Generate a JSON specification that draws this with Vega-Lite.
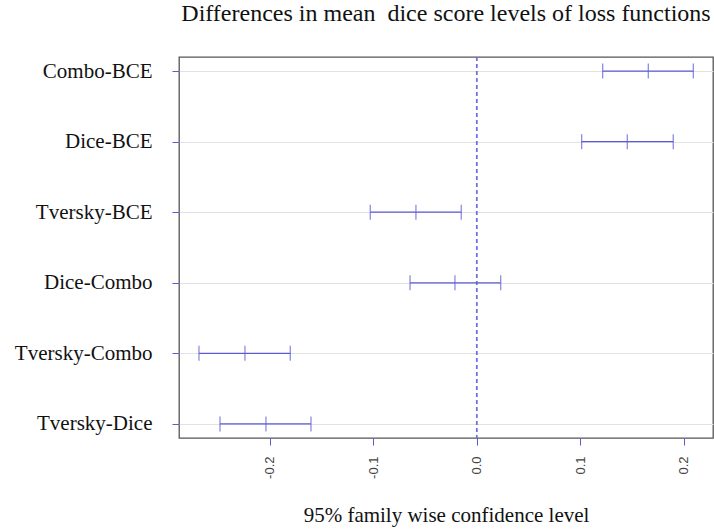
{
  "$schema": "https://vega.github.io/schema/vega-lite/v6.json",
  "autosize": "none",
  "padding": {"left": 179, "top": 57, "right": 1, "bottom": 93},
  "width": 534,
  "height": 381,
  "background": "white",
  "title": {
    "text": "Differences in mean \u00a0dice score levels of loss functions",
    "font": "Liberation Serif",
    "fontSize": 24,
    "fontWeight": "normal",
    "color": "#111",
    "anchor": "middle",
    "baseline": "alphabetic",
    "offset": 11
  },
  "data": {
    "values": [
      {"comparison": "Combo-BCE", "lwr": 0.1218, "diff": 0.1659, "upr": 0.2094},
      {"comparison": "Dice-BCE", "lwr": 0.1015, "diff": 0.1456, "upr": 0.1900},
      {"comparison": "Tversky-BCE", "lwr": -0.1027, "diff": -0.0586, "upr": -0.0148},
      {"comparison": "Dice-Combo", "lwr": -0.0643, "diff": -0.0209, "upr": 0.0233},
      {"comparison": "Tversky-Combo", "lwr": -0.2682, "diff": -0.2238, "upr": -0.1800},
      {"comparison": "Tversky-Dice", "lwr": -0.2479, "diff": -0.2035, "upr": -0.1600}
    ]
  },
  "encoding": {
    "y": {
      "field": "comparison",
      "type": "nominal",
      "sort": ["Combo-BCE", "Dice-BCE", "Tversky-BCE", "Dice-Combo", "Tversky-Combo", "Tversky-Dice"],
      "scale": {"type": "point", "padding": 0.2},
      "axis": {
        "title": null,
        "domain": false,
        "grid": true,
        "gridColor": "#e2e2e2",
        "gridWidth": 1,
        "tickColor": "#5b5bd6",
        "tickSize": 7,
        "tickWidth": 1,
        "labelFont": "Liberation Serif",
        "labelFontSize": 21,
        "labelColor": "#111",
        "labelPadding": 20
      }
    }
  },
  "layer": [
    {
      "mark": {"type": "rule", "color": "#7070dc", "strokeDash": [4, 3], "strokeWidth": 1.2},
      "encoding": {
        "x": {"datum": 0, "type": "quantitative"},
        "y": null
      }
    },
    {
      "mark": {"type": "rule", "color": "#5b5bd6", "strokeWidth": 1.3},
      "encoding": {
        "x": {
          "field": "lwr",
          "type": "quantitative",
          "scale": {"domain": [-0.2875, 0.2284], "nice": false, "zero": false},
          "axis": {
            "title": "95% family wise confidence level",
            "titleFont": "Liberation Serif",
            "titleFontSize": 21,
            "titleFontWeight": "normal",
            "titleColor": "#111",
            "titleBaseline": "alphabetic",
            "titleY": 83,
            "values": [-0.2, -0.1, 0, 0.1, 0.2],
            "labelExpr": "replace(format(datum.value, '.1f'), '\u2212', '-')",
            "labelAngle": -90,
            "labelFont": "Liberation Sans",
            "labelFontSize": 13,
            "labelColor": "#444",
            "labelPadding": 11,
            "tickColor": "#5b5bd6",
            "tickSize": 7,
            "tickWidth": 1,
            "domain": false,
            "grid": false
          }
        },
        "x2": {"field": "upr"}
      }
    },
    {
      "mark": {"type": "tick", "orient": "vertical", "color": "#5b5bd6", "size": 15, "thickness": 1.3},
      "encoding": {"x": {"field": "lwr", "type": "quantitative"}}
    },
    {
      "mark": {"type": "tick", "orient": "vertical", "color": "#5b5bd6", "size": 15, "thickness": 1.3},
      "encoding": {"x": {"field": "diff", "type": "quantitative"}}
    },
    {
      "mark": {"type": "tick", "orient": "vertical", "color": "#5b5bd6", "size": 15, "thickness": 1.3},
      "encoding": {"x": {"field": "upr", "type": "quantitative"}}
    }
  ],
  "config": {
    "view": {"stroke": "#555", "strokeWidth": 1.3}
  }
}
